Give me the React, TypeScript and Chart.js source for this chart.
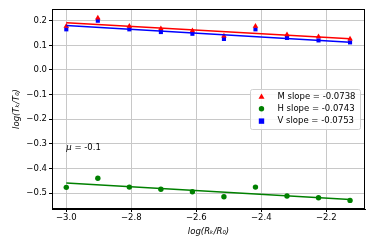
import React, { useEffect, useRef } from "react";
import { Chart, registerables } from "chart.js";

Chart.register(...registerables);

const xValues = [-3.0, -2.903, -2.806, -2.709, -2.612, -2.515, -2.418, -2.321, -2.224, -2.127];
const mValues = [0.178, 0.211, 0.178, 0.168, 0.159, 0.138, 0.178, 0.143, 0.135, 0.126];
const hValues = [-0.477, -0.44, -0.476, -0.485, -0.495, -0.515, -0.476, -0.512, -0.519, -0.53];
const vValues = [0.165, 0.2, 0.165, 0.154, 0.147, 0.126, 0.165, 0.13, 0.12, 0.112];

const fitX = [-3.0, -2.127];
const mFit = [0.192, 0.127];
const hFit = [-0.459, -0.526];
const vFit = [0.181, 0.113];

const mLabel = "M slope = -0.0738";
const hLabel = "H slope = -0.0743";
const vLabel = "V slope = -0.0753";

const xTicks = [-3.0, -2.8, -2.6, -2.4, -2.2];
const yTicks = [0.2, 0.1, 0.0, -0.1, -0.2, -0.3, -0.4, -0.5];

const annotationText = "= -0.1";
const annotationX = -3.0;
const annotationY = -0.325;

const FONT = "'DejaVu Sans', sans-serif";

const fmt = (v: number) => {
  const s = Math.abs(v) < 1e-9 ? "0.0" : v.toFixed(1);
  return s.replace("-", "\u2212");
};

const pts = (xs: number[], ys: number[]) => xs.map((x, i) => ({ x, y: ys[i] }));

const overlayPlugin = {
  id: "overlay",
  afterDraw(chart: any) {
    const { ctx, chartArea, scales } = chart;
    const { left, right, top, bottom } = chartArea;
    ctx.save();
    // frame
    ctx.strokeStyle = "#000";
    ctx.lineWidth = 1;
    ctx.strokeRect(left + 0.5, top + 0.5, right - left - 1, bottom - top - 1);

    // axis titles
    ctx.fillStyle = "#000";
    ctx.font = `italic 8.5px ${FONT}`;
    ctx.textAlign = "center";
    ctx.textBaseline = "middle";
    ctx.fillText("log(R\u2096/R\u2080)", (left + right) / 2, 232);
    ctx.save();
    ctx.translate(17, (top + bottom) / 2);
    ctx.rotate(-Math.PI / 2);
    ctx.fillText("log(T\u2096/T\u2080)", 0, 0);
    ctx.restore();

    // annotation
    const ax = scales.x.getPixelForValue(annotationX);
    const ay = scales.y.getPixelForValue(annotationY);
    ctx.textAlign = "left";
    ctx.textBaseline = "alphabetic";
    ctx.font = `italic 8.5px ${FONT}`;
    ctx.fillText("\u03bc", ax, ay);
    const w = ctx.measureText("\u03bc").width;
    ctx.font = `8.5px ${FONT}`;
    ctx.fillText(" " + annotationText, ax + w, ay);

    // legend
    const lx = 250, ly = 89, lw = 110, lh = 40;
    ctx.fillStyle = "rgba(255,255,255,0.85)";
    ctx.strokeStyle = "#d0d0d0";
    ctx.lineWidth = 1;
    ctx.beginPath();
    (ctx as any).roundRect(lx + 0.5, ly + 0.5, lw, lh, 2);
    ctx.fill();
    ctx.stroke();
    const items = chart.data.datasets.filter((d: any) => d.inLegend);
    items.forEach((d: any, i: number) => {
      const cy = 96.5 + i * 12.3;
      const mx = 261.5;
      ctx.fillStyle = d.backgroundColor;
      ctx.beginPath();
      if (d.pointStyle === "triangle") {
        ctx.moveTo(mx, cy - 3);
        ctx.lineTo(mx + 3, cy + 2.2);
        ctx.lineTo(mx - 3, cy + 2.2);
        ctx.closePath();
      } else if (d.pointStyle === "rect") {
        ctx.rect(mx - 2.7, cy - 2.7, 5.4, 5.4);
      } else {
        ctx.arc(mx, cy, 2.7, 0, Math.PI * 2);
      }
      ctx.fill();
      ctx.fillStyle = "#000";
      ctx.font = `8.5px ${FONT}`;
      ctx.textBaseline = "middle";
      ctx.fillText(d.label, 277.5, cy);
    });
    ctx.restore();
  },
};

export default function App() {
  const ref = useRef<HTMLCanvasElement | null>(null);
  useEffect(() => {
    if (!ref.current) return;
    const chart = new Chart(ref.current, {
      type: "scatter",
      data: {
        datasets: [
          { type: "line", label: "Mfit", data: pts(fitX, mFit), borderColor: "#ff0000", borderWidth: 1.5, pointRadius: 0, fill: false } as any,
          { type: "line", label: "Hfit", data: pts(fitX, hFit), borderColor: "#008000", borderWidth: 1.5, pointRadius: 0, fill: false } as any,
          { type: "line", label: "Vfit", data: pts(fitX, vFit), borderColor: "#0000ff", borderWidth: 1.5, pointRadius: 0, fill: false } as any,
          { label: mLabel, inLegend: true, data: pts(xValues, mValues), backgroundColor: "#ff0000", borderColor: "#ff0000", borderWidth: 0, pointStyle: "triangle", pointRadius: 3.2 } as any,
          { label: hLabel, inLegend: true, data: pts(xValues, hValues), backgroundColor: "#008000", borderColor: "#008000", borderWidth: 0, pointStyle: "circle", pointRadius: 2.7 } as any,
          { label: vLabel, inLegend: true, data: pts(xValues, vValues), backgroundColor: "#0000ff", borderColor: "#0000ff", borderWidth: 0, pointStyle: "rect", pointRadius: 2.9 } as any,
        ],
      },
      options: {
        animation: false,
        responsive: false,
        maintainAspectRatio: false,
        layout: { padding: { top: 9, right: 9, left: 0, bottom: 0 } },
        plugins: { legend: { display: false }, tooltip: { enabled: false } },
        scales: {
          x: {
            type: "linear",
            min: -3.044,
            max: -2.081,
            afterBuildTicks: (s: any) => { s.ticks = xTicks.map((v) => ({ value: v })); },
            afterFit: (s: any) => { s.height = 40; },
            ticks: { callback: (v: any) => fmt(Number(v)), color: "#000", font: { family: FONT, size: 8.5 }, padding: 1, maxRotation: 0, autoSkip: false },
            grid: { color: "#c8c8c8", lineWidth: 1, tickColor: "#000", tickLength: 3, drawTicks: true },
            border: { display: true, color: "#000", width: 1 },
          },
          y: {
            type: "linear",
            min: -0.565,
            max: 0.2476,
            afterBuildTicks: (s: any) => { s.ticks = yTicks.map((v) => ({ value: v })); },
            afterFit: (s: any) => { s.width = 52; },
            ticks: { callback: (v: any) => fmt(Number(v)), color: "#000", font: { family: FONT, size: 8.5 }, padding: 2, autoSkip: false },
            grid: { color: "#c8c8c8", lineWidth: 1, tickColor: "#000", tickLength: 3, drawTicks: true },
            border: { display: true, color: "#000", width: 1 },
          },
        },
      },
      plugins: [overlayPlugin],
    } as any);
    return () => chart.destroy();
  }, []);
  return (
    <div style={{ position: "fixed", left: 0, top: 0, width: 374, height: 249, background: "#fff" }}>
      <canvas ref={ref} width={374} height={249} style={{ width: 374, height: 249, display: "block" }} />
    </div>
  );
}
